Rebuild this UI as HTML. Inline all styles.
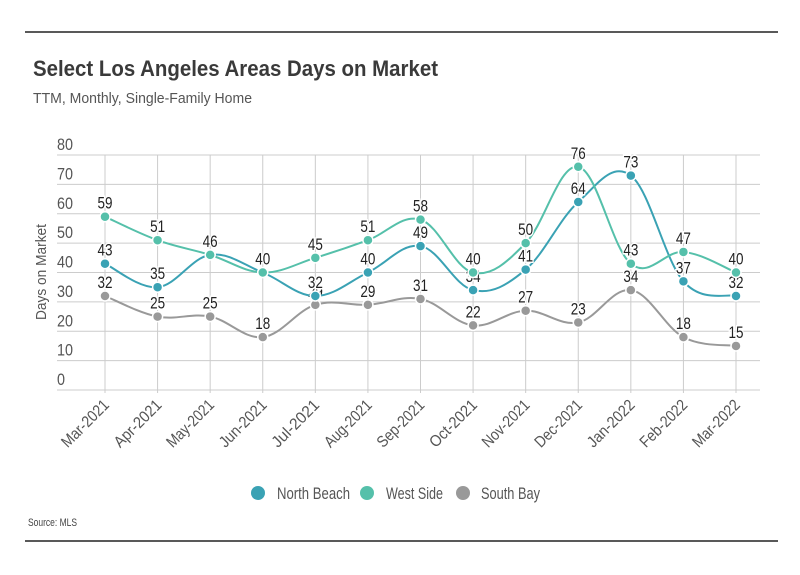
<!DOCTYPE html>
<html><head><meta charset="utf-8"><style>
body{margin:0;background:#fff;}
svg{display:block;font-family:"Liberation Sans Narrow","Liberation Sans",sans-serif;}
</style></head><body>
<svg id="chart" width="800" height="575" viewBox="0 0 800 575">
<line x1="25" y1="32" x2="778" y2="32" stroke="#222" stroke-width="1.5"/>
<text x="33" y="76" font-size="22" font-weight="bold" fill="#3a3a3a" textLength="405" lengthAdjust="spacingAndGlyphs">Select Los Angeles Areas Days on Market</text>
<text x="33" y="103" font-size="15" fill="#555" textLength="219" lengthAdjust="spacingAndGlyphs">TTM, Monthly, Single-Family Home</text>
<text transform="translate(46,272) rotate(-90)" text-anchor="middle" font-size="15" fill="#555" textLength="96" lengthAdjust="spacingAndGlyphs">Days on Market</text>
<g id="grid"></g>
<g id="series"></g>
<g>
<g><circle cx="258" cy="493" r="7" fill="#3aa2b4"/><text x="277" y="499" font-size="17" fill="#555" textLength="73" lengthAdjust="spacingAndGlyphs">North Beach</text></g>
<g><circle cx="367" cy="493" r="7" fill="#55c0aa"/><text x="386" y="499" font-size="17" fill="#555" textLength="57" lengthAdjust="spacingAndGlyphs">West Side</text></g>
<g><circle cx="463" cy="493" r="7" fill="#999"/><text x="481" y="499" font-size="17" fill="#555" textLength="59" lengthAdjust="spacingAndGlyphs">South Bay</text></g>
</g>
<text x="28" y="526" font-size="11" fill="#444" textLength="49" lengthAdjust="spacingAndGlyphs">Source:  MLS</text>
<line x1="25" y1="541" x2="778" y2="541" stroke="#222" stroke-width="1.5"/>
</svg>
<script>
const categories=["Mar-2021","Apr-2021","May-2021","Jun-2021","Jul-2021","Aug-2021","Sep-2021","Oct-2021","Nov-2021","Dec-2021","Jan-2022","Feb-2022","Mar-2022"];
const northBeach=[43,35,46,40,32,40,49,34,41,64,73,37,32];
const westSide=[59,51,46,40,45,51,58,40,50,76,43,47,40];
const southBay=[32,25,25,18,29,29,31,22,27,23,34,18,15];
const yTicks=[0,10,20,30,40,50,60,70,80];
const NS="http://www.w3.org/2000/svg";
const x0=105,x1=736,yBase=390,yTop=155,yMax=80;
function xs(i){return x0+(x1-x0)*i/(categories.length-1);}
function ys(v){return yBase-(yBase-yTop)*v/yMax;}
function mk(tag,attrs,parent){const e=document.createElementNS(NS,tag);for(const k in attrs)e.setAttribute(k,attrs[k]);parent.appendChild(e);return e;}
const grid=document.getElementById('grid');
yTicks.forEach(t=>{
  const l=mk('line',{x1:57,x2:760,y1:ys(t),y2:ys(t),stroke:'#ccc','stroke-width':1},grid);
  
  
  const tx=mk('text',{x:57,y:ys(t)-5,'font-size':17,fill:'#555',textLength:String(t).length*8,lengthAdjust:'spacingAndGlyphs'},grid);
  tx.textContent=t;
  
  
});
categories.forEach((c,i)=>{
  const l=mk('line',{x1:xs(i),x2:xs(i),y1:yTop,y2:yBase+3,stroke:'#ccc','stroke-width':1},grid);
  
  
  const tx=mk('text',{x:0,y:0,'font-size':16,fill:'#555','text-anchor':'end',textLength:60,lengthAdjust:'spacingAndGlyphs',transform:`translate(${xs(i)+5},${yBase+16}) rotate(-45)`},grid);
  tx.textContent=c;
  
  
});
function path(vals){
  const p=vals.map((v,i)=>[xs(i),ys(v)]);
  let d=`M${p[0][0]},${p[0][1]}`;
  const t=0.18;
  for(let i=0;i<p.length-1;i++){
    const a=p[Math.max(0,i-1)],b=p[i],c=p[i+1],e=p[Math.min(p.length-1,i+2)];
    const c1=[b[0]+(c[0]-a[0])*t,b[1]+(c[1]-a[1])*t];
    const c2=[c[0]-(e[0]-b[0])*t,c[1]-(e[1]-b[1])*t];
    d+=` C${c1[0]},${c1[1]} ${c2[0]},${c2[1]} ${c[0]},${c[1]}`;
  }
  return d;
}
const sg=document.getElementById('series');
[[southBay,'#999','south-bay'],[northBeach,'#3aa2b4','north-beach'],[westSide,'#55c0aa','west-side']].forEach(([vals,col,nm])=>{
  const pl=mk('path',{d:path(vals),fill:'none',stroke:col,'stroke-width':2},sg);
  
  
  vals.forEach((v,i)=>{
    const c=mk('circle',{cx:xs(i),cy:ys(v),r:5,fill:col,stroke:'#fff','stroke-width':1.5},sg);
    
    
    const tx=mk('text',{x:xs(i),y:ys(v)-8,'font-size':17,fill:'#222','text-anchor':'middle',textLength:String(v).length*7.5,lengthAdjust:'spacingAndGlyphs',stroke:'#fff','stroke-width':3,'paint-order':'stroke'},sg);
    tx.textContent=v;
    
    
  });
});
</script>
</body></html>
